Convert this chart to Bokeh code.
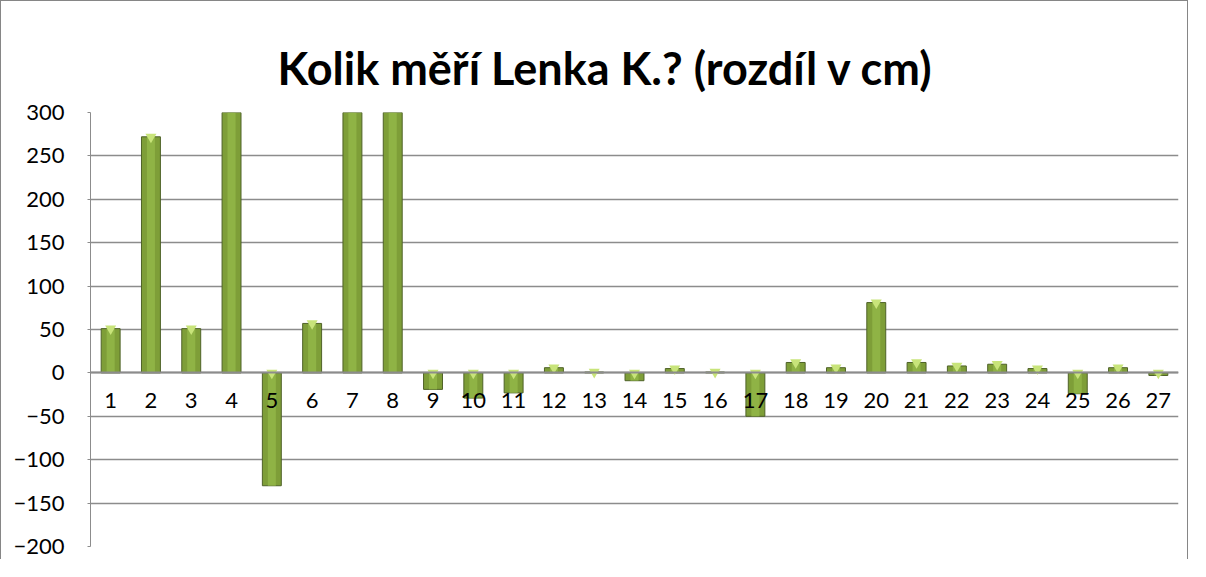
from bokeh.plotting import figure
from bokeh.models import Range1d, FixedTicker, ColumnDataSource
from bokeh.embed import file_html
from bokeh.resources import INLINE

categories = [str(i) for i in range(1, 28)]
values = [51, 272, 51, 400, -130, 57, 400, 400, -19, -29, -23, 6, 1, -9, 5, 1,
          -50, 12, 6, 81, 12, 8, 10, 5, -24, 6, -3]
y_ticks = [-200, -150, -100, -50, 0, 50, 100, 150, 200, 250, 300]

tops = [max(v, 0) for v in values]
src = ColumnDataSource(dict(x=categories, v=values, top=tops))

p = figure(width=1188, height=559, x_range=categories, y_range=Range1d(-200, 300),
           output_backend="svg", toolbar_location=None,
           title="Kolik měří Lenka K.? (rozdíl v cm)",
           min_border_left=89, min_border_right=11, min_border_top=111, min_border_bottom=14)

p.title.text_font = "Lato"
p.title.text_font_style = "bold"
p.title.text_font_size = "45px"
p.title.align = "left"
p.title.offset = 187
p.title.standoff = 35
p.title.text_color = "black"

p.outline_line_color = None
p.background_fill_color = "white"
p.border_fill_color = "white"
p.styles = {"border-top": "1px solid #868686", "border-left": "1px solid #868686",
            "border-right": "1px solid #868686"}

p.vbar(x="x", top="v", bottom=0, width=0.47, source=src,
       fill_color="#7E9E38", line_color="#4F6228", line_width=1)
p.vbar(x="x", top="v", bottom=0, width=0.2, source=src,
       fill_color="#93B848", line_color=None, fill_alpha=0.8)
p.scatter(x="x", y="top", source=src, marker="inverted_triangle", size=11,
          fill_color="#C8E47A", line_color=None)

p.yaxis.ticker = FixedTicker(ticks=y_ticks)
p.yaxis.axis_line_color = "#8C8C8C"
p.yaxis.major_tick_line_color = "#8C8C8C"
p.yaxis.major_tick_out = 3
p.yaxis.major_tick_in = 0
p.yaxis.minor_tick_line_color = None
p.yaxis.major_label_standoff = 23
p.yaxis.major_label_text_font = "Lato"
p.yaxis.major_label_text_font_size = "22px"
p.yaxis.major_label_text_color = "black"

p.xaxis.fixed_location = 0
p.xaxis.axis_line_color = "#8C8C8C"
p.xaxis.axis_line_width = 2
p.xaxis.major_tick_line_color = None
p.xaxis.minor_tick_line_color = None
p.xaxis.major_label_standoff = 14
p.xaxis.major_label_text_font = "Lato"
p.xaxis.major_label_text_font_size = "22px"
p.xaxis.major_label_text_color = "black"

p.xgrid.grid_line_color = None
p.ygrid.grid_line_color = "#8C8C8C"
p.ygrid.grid_line_width = 1.5

open("out.html", "w").write(file_html(p, INLINE))
